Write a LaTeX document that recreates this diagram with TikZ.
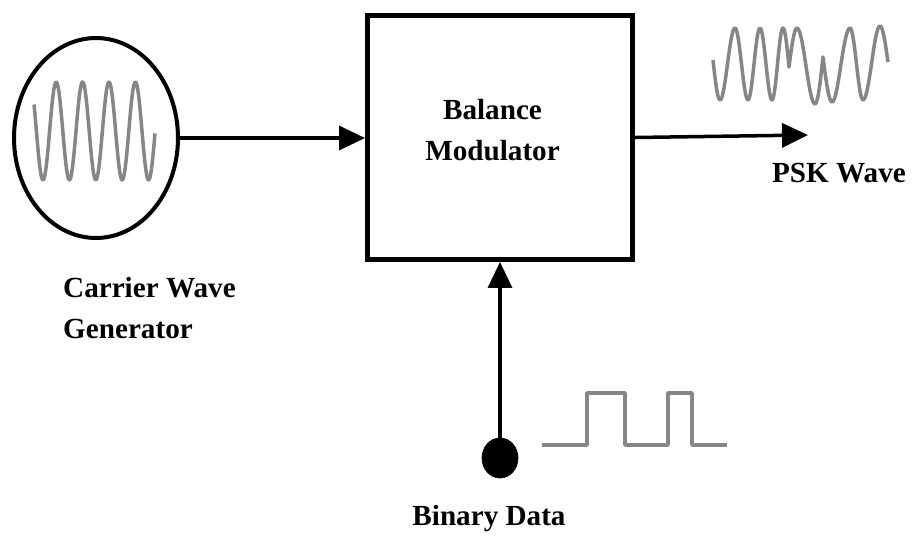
\documentclass[tikz,border=0pt]{standalone}
\usepackage{fontspec}
\setmainfont{Liberation Serif}
\usepackage{tikz}
\usetikzlibrary{arrows.meta, shapes.geometric}

\begin{document}
\begin{tikzpicture}[x=0.02cm, y=-0.02cm,
        bloc/.style={draw, line width=0.1cm, minimum width=5.3cm, minimum height=4.88cm},
        fleche/.style={line width=0.07cm, -{Triangle[length=0.52cm, width=0.48cm]}},
        onde/.style={draw=gray!95, line width=0.07cm, line join=round},
        texte/.style={font=\fontsize{16.6}{23.5}\selectfont\bfseries, align=center}]
        \useasboundingbox (0,0) rectangle (913,542);

        % Generateur et modulateur
        \node[draw, ellipse, line width=0.08cm, minimum width=3.28cm, minimum height=4cm] (gen) at (96,138) {};
        \node[bloc] (mod) at (500,137.5) {};
        \node[texte] (modlbl) at (492.5,130) {Balance\\Modulator};
        \node[texte, align=left, anchor=west] (genlbl) at (57,308) {Carrier Wave\\Generator};

        % Porteuse
        \draw[onde] plot[domain=34:155, samples=160] (\x, {131+49*cos(13.636*(\x-43))});

        % Fleches
        \coordinate (psk) at (808,135);
        \node[draw, ellipse, fill, minimum width=0.72cm, minimum height=0.8cm, inner sep=0pt] (dot) at (500,458) {};
        \draw[fleche] (gen.east) -- (gen.east -| mod.west);
        \draw[fleche] (mod.east) -- (psk);
        \draw[fleche] (dot.north) -- (dot.north |- mod.south);

        % Onde PSK (inversions de phase)
        \draw[onde] (713,60) sin (720,100) cos (727.5,64) sin (735,28) cos (741.5,64) sin (748,100)
            cos (754,64) sin (760,28) cos (766,64) sin (772,100) cos (777.5,64) sin (783,28)
            cos (789,67) sin (797,28) cos (806,66) sin (815,104) cos (823,57) sin (832,102)
            cos (841,64) sin (850,28) cos (856.5,64) sin (863,100) cos (871.5,64) sin (880,26) cos (888,62);
        \node[texte, anchor=base] (psklbl) at (839,182) {PSK Wave};

        % Donnees binaires
        \draw[onde] (542,445) -- (587,445) -- (587,393) -- (625,393) -- (625,445) -- (668,445)
            -- (668,393) -- (692,393) -- (692,445) -- (727,445);
        \node[texte, anchor=base] (datalbl) at (489,525) {Binary Data};
\end{tikzpicture}
\end{document}
